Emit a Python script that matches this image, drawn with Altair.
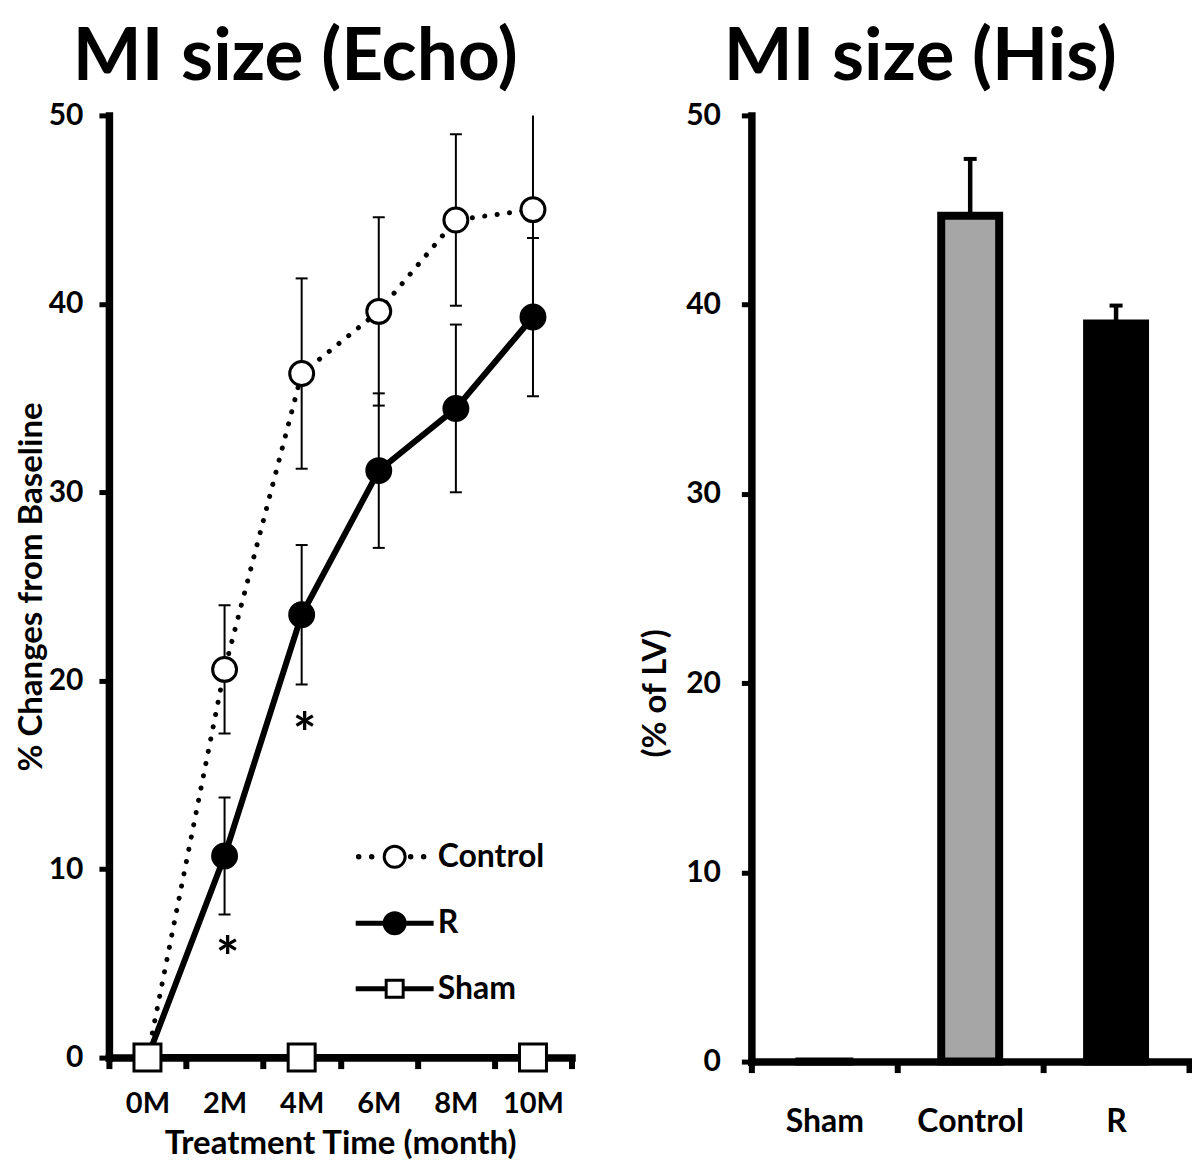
import altair as alt
import pandas as pd

# ---------------- data ----------------
months = ["0M", "2M", "4M", "6M", "8M", "10M"]
control_mean = [0, 20.6, 36.3, 39.6, 44.45, 45.0]
control_err = [0, 3.4, 5.05, 5.0, 4.55, 5.2]
r_mean = [0, 10.7, 23.5, 31.15, 34.45, 39.3]
r_err = [0, 3.1, 3.7, 4.1, 4.45, 4.2]
sham_months = ["0M", "4M", "10M"]
sham_mean = [0, 0, 0]
star_months = ["2M", "4M"]
star_y = [6.0, 17.85]

his_groups = ["Sham", "Control", "R"]
his_mean = [0, 44.7, 39.0]
his_err = [0, 3.0, 0.95]

series = ["Control", "R", "Sham"]

FONT = "Lato"

# ---------------- tables ----------------
rows = []
for m, v, e in zip(months, control_mean, control_err):
    rows.append({"month": m, "series": "Control", "mean": v, "err": e, "lo": v - e, "hi": v + e})
for m, v, e in zip(months, r_mean, r_err):
    rows.append({"month": m, "series": "R", "mean": v, "err": e, "lo": v - e, "hi": v + e})
for m, v in zip(sham_months, sham_mean):
    rows.append({"month": m, "series": "Sham", "mean": v, "err": 0, "lo": v, "hi": v})
echo = pd.DataFrame(rows)
stars = pd.DataFrame({"month": star_months, "y": star_y, "t": ["*"] * len(star_months)})
his = pd.DataFrame({"group": his_groups, "mean": his_mean, "err": his_err,
                    "hi": [m + e for m, e in zip(his_mean, his_err)]})

# ---------------- left panel ----------------
x_axis_l = alt.Axis(title="Treatment Time (month)", tickBand="extent", labelAngle=0,
                    domainWidth=7.5, domainCap="square", tickWidth=6, tickSize=11,
                    labelPadding=21, titlePadding=9, labelFontSize=29, titleFontSize=33)
x_scale_l = alt.Scale(type="band", domain=months, paddingInner=0, paddingOuter=0)
y_axis_l = alt.Axis(title="% Changes from Baseline", values=[0, 10, 20, 30, 40, 50],
                    domainWidth=7.5, domainCap="square", tickWidth=5, tickSize=10,
                    labelPadding=16, titlePadding=0, labelFontSize=30, titleFontSize=33)
y_scale = alt.Scale(domain=[0, 50], nice=False, zero=True)

X = alt.X("month:N", scale=x_scale_l, axis=x_axis_l, sort=months)


def Y(field):
    return alt.Y(f"{field}:Q", scale=y_scale, axis=y_axis_l)


base = alt.Chart(echo)
errs = base.transform_filter("datum.err > 0")
err_rule = errs.mark_rule(color="black", strokeWidth=2, clip=True).encode(x=X, y=Y("lo"), y2="hi:Q")
cap_lo = errs.mark_tick(color="black", size=12, thickness=2, opacity=1, clip=True).encode(x=X, y=Y("lo"))
cap_hi = errs.mark_tick(color="black", size=12, thickness=2, opacity=1, clip=True).encode(x=X, y=Y("hi"))

ctrl_line = base.transform_filter("datum.series == 'Control'").mark_line(
    color="black", strokeWidth=5, strokeDash=[0.1, 12.4], strokeCap="round").encode(x=X, y=Y("mean"))
r_line = base.transform_filter("datum.series == 'R'").mark_line(
    color="black", strokeWidth=6).encode(x=X, y=Y("mean"))
sham_line = base.transform_filter("datum.series == 'Sham'").mark_line(
    color="black", strokeWidth=7).encode(x=X, y=Y("mean"))

ctrl_pts = base.transform_filter("datum.series == 'Control'").mark_point(
    shape="circle", size=573, fill="white", stroke="black", strokeWidth=3,
    opacity=1, fillOpacity=1).encode(x=X, y=Y("mean"))
r_pts = base.transform_filter("datum.series == 'R'").mark_point(
    shape="circle", size=573, fill="black", stroke="black", strokeWidth=3,
    opacity=1, fillOpacity=1).encode(x=X, y=Y("mean"))
sham_pts = base.transform_filter("datum.series == 'Sham'").mark_point(
    shape="square", size=729, fill="white", stroke="black", strokeWidth=3,
    opacity=1, fillOpacity=1).encode(x=X, y=Y("mean"))

star_txt = alt.Chart(stars).mark_text(font=FONT, fontSize=56, fontWeight="bold", color="black",
                                      dx=3, dy=15, baseline="middle").encode(
    x=X, y=alt.Y("y:Q", scale=y_scale, axis=y_axis_l), text="t:N")


# legend symbols: line + marker drawn as custom paths
def circ(cx, r):
    return f"M{cx - r},0A{r},{r} 0 1,0 {cx + r},0A{r},{r} 0 1,0 {cx - r},0Z"


ctrl_path = "".join(circ(c, 0.1) for c in [-2.88, -1.84, 1.28, 2.32]) + circ(0, 0.84)
r_path = "M-3,-0.08H3V0.08H-3Z" + circ(0, 0.84)
sham_path = ("M-3,-0.08H-0.68V0.08H-3Z"
             "M0.68,-0.08H3V0.08H0.68Z"
             "M-0.68,-0.68H0.68V0.68H-0.68Z")

leg_params = dict(orient="none", legendX=270, legendY=726, title=None, symbolSize=625,
                  symbolStrokeWidth=3, symbolStrokeColor="black", labelFont=FONT,
                  labelFontSize=32, labelFontWeight="bold", labelColor="black",
                  labelOffset=27, rowPadding=32.5, padding=0, labelLimit=0)

legend_layer = base.transform_filter("false").mark_point(
    filled=True, stroke="black", strokeWidth=3, opacity=1, size=625).encode(
    x=X, y=Y("mean"),
    shape=alt.Shape("series:N", scale=alt.Scale(domain=series, range=[ctrl_path, r_path, sham_path]),
                    legend=alt.Legend(**leg_params)),
    fill=alt.Fill("series:N", scale=alt.Scale(domain=series, range=["white", "black", "white"]),
                  legend=alt.Legend(**leg_params)),
    stroke=alt.Stroke("series:N", scale=alt.Scale(domain=series, range=["black", "black", "black"]),
                      legend=alt.Legend(**leg_params)),
)

left = alt.layer(err_rule, cap_lo, cap_hi, ctrl_line, r_line, sham_line,
                 ctrl_pts, r_pts, sham_pts, star_txt, legend_layer).properties(
    width=463, height=943, title=alt.TitleParams("MI size (Echo)", dx=-45))

# ---------------- right panel ----------------
x_axis_r = alt.Axis(title=None, tickBand="extent", labelAngle=0,
                    domainWidth=7.5, domainCap="square", tickWidth=6, tickSize=11,
                    labelPadding=34, labelFontSize=32)
x_scale_r = alt.Scale(type="band", domain=his_groups, paddingInner=0, paddingOuter=0)
y_axis_r = alt.Axis(title="(% of LV)", values=[0, 10, 20, 30, 40, 50],
                    domainWidth=7.5, domainCap="square", tickWidth=5, tickSize=10,
                    labelPadding=21, titlePadding=13, labelFontSize=30, titleFontSize=33,
                    titleY=578)
XR = alt.X("group:N", scale=x_scale_r, axis=x_axis_r, sort=his_groups)

hbase = alt.Chart(his)
bars = hbase.mark_bar(size=58, stroke="black", strokeWidth=8).encode(
    x=XR, y=alt.Y("mean:Q", scale=y_scale, axis=y_axis_r),
    fill=alt.Fill("group:N", scale=alt.Scale(domain=his_groups, range=["white", "#a6a6a6", "black"]),
                  legend=None))
herr = hbase.transform_filter("datum.err > 0")
h_rule = herr.mark_rule(color="black", strokeWidth=4.5).encode(
    x=XR, y=alt.Y("mean:Q", scale=y_scale, axis=y_axis_r), y2="hi:Q")
h_cap = herr.mark_tick(color="black", size=13, thickness=4, opacity=1).encode(
    x=XR, y=alt.Y("hi:Q", scale=y_scale, axis=y_axis_r))

right = alt.layer(bars, h_rule, h_cap).properties(
    width=438, height=947, title=alt.TitleParams("MI size (His)", dx=-50))

chart = alt.hconcat(left, right, spacing=65).properties(
    padding={"left": 7, "top": 14, "right": 0, "bottom": 0}
).resolve_scale(fill="independent", shape="independent", stroke="independent").configure_axis(
    labelFont=FONT, titleFont=FONT, labelFontWeight="bold", titleFontWeight="bold",
    labelColor="black", titleColor="black", domainColor="black", tickColor="black",
    grid=False
).configure_view(stroke=None).configure_title(
    font=FONT, fontSize=73, fontWeight="bold", color="black", offset=5, anchor="middle"
)

chart.save("out.html", embed_options={"renderer": "svg", "actions": False})
